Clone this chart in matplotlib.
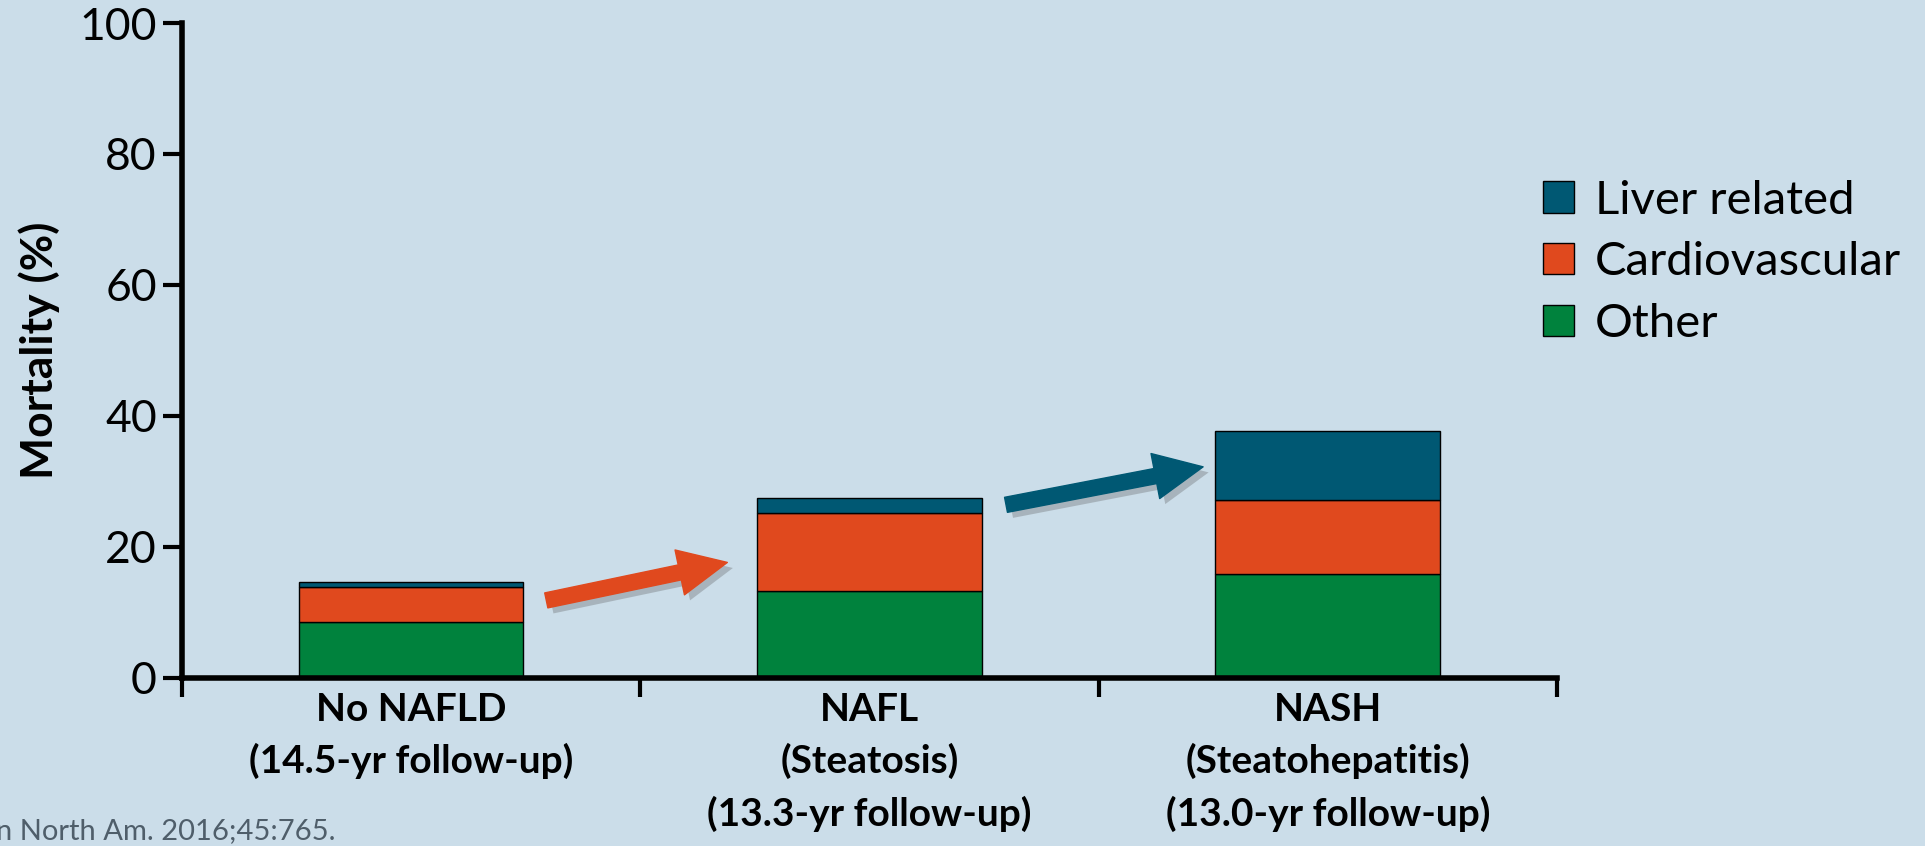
import numpy as np
import matplotlib
matplotlib.use("Agg")
import matplotlib.pyplot as plt
from matplotlib.patches import Patch
import matplotlib.patheffects as pe

plt.rcParams['font.family'] = ['Lato', 'DejaVu Sans']

groups = ["No NAFLD\n(14.5-yr follow-up)",
          "NAFL\n(Steatosis)\n(13.3-yr follow-up)",
          "NASH\n(Steatohepatitis)\n(13.0-yr follow-up)"]
other = [8.5, 13.2, 15.8]
cardio = [5.4, 11.9, 11.3]
liver = [0.7, 2.4, 10.6]

bg = "#cbdde9"
c_other = "#00823d"
c_cardio = "#e0491e"
c_liver = "#005873"

fig = plt.figure(figsize=(19.25, 8.46), dpi=100, facecolor=bg)
ax = fig.add_axes([0.0945, 0.199, 0.7143, 0.7738], facecolor=bg)

x = np.arange(len(groups))
other = np.array(other)
cardio = np.array(cardio)
liver = np.array(liver)
w = 0.49
ax.bar(x, other, w, color=c_other, edgecolor="black", linewidth=1)
ax.bar(x, cardio, w, bottom=other, color=c_cardio, edgecolor="black", linewidth=1)
ax.bar(x, liver, w, bottom=other + cardio, color=c_liver, edgecolor="black", linewidth=1)

# trend arrows between the stacks
shadow = [pe.SimplePatchShadow(offset=(4, -4), shadow_rgbFace="#555555", alpha=0.3), pe.Normal()]
arrows = [((0.295, 11.8), (0.69, 17.6), c_cardio),
          ((1.298, 26.4), (1.728, 32.2), c_liver)]
for (x0, y0), (x1, y1), col in arrows:
    ax.annotate("", xy=(x1, y1), xytext=(x0, y0),
                arrowprops=dict(arrowstyle="simple,head_length=3.5,head_width=3.3,tail_width=1.1",
                                mutation_scale=10, color=col, shrinkA=0, shrinkB=0,
                                path_effects=shadow))

ax.set_xlim(-0.5, 2.5)
ax.set_ylim(0, 100)
ax.set_yticks([0, 20, 40, 60, 80, 100])
ax.tick_params(axis="y", labelsize=32, length=14, width=3, pad=4)
ax.set_xticks([-0.5, 0.5, 1.5, 2.5])
ax.set_xticklabels([])
ax.tick_params(axis="x", which="major", length=14, width=3)
ax.set_xticks(x, minor=True)
ax.set_xticklabels(groups, minor=True, fontsize=28, fontweight="bold", linespacing=1.55)
ax.tick_params(axis="x", which="minor", length=0, pad=10)

for s in ["top", "right"]:
    ax.spines[s].set_visible(False)
for s in ["left", "bottom"]:
    ax.spines[s].set_linewidth(4)

ax.set_ylabel("Mortality (%)", fontsize=32, fontweight="bold", labelpad=14)

handles = [Patch(facecolor=c_liver, edgecolor="black", label="Liver related"),
           Patch(facecolor=c_cardio, edgecolor="black", label="Cardiovascular"),
           Patch(facecolor=c_other, edgecolor="black", label="Other")]
fig.legend(handles=handles, loc="upper left", bbox_to_anchor=(0.792, 0.81),
           frameon=False, fontsize=34, handlelength=0.64, handleheight=0.64,
           handletextpad=0.45, labelspacing=0.42, borderaxespad=0)

fig.text(-0.002, 0.008, "n North Am. 2016;45:765.", fontsize=21, color="#4f5e6a",
         ha="left", va="baseline")

fig.savefig("out.png", dpi=100, facecolor=bg)
